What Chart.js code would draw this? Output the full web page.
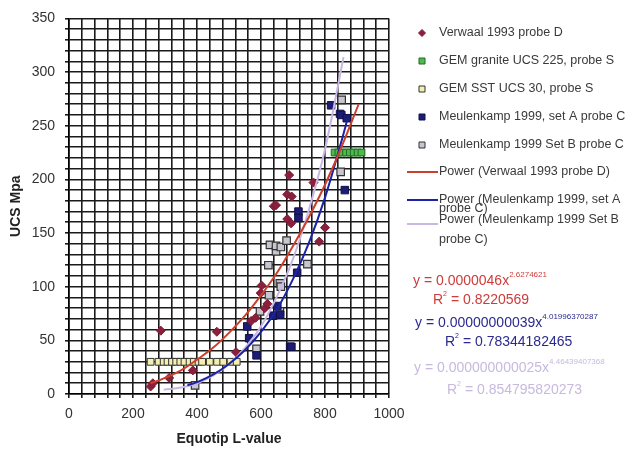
<!DOCTYPE html>
<html><head><meta charset="utf-8">
<script src="https://cdn.jsdelivr.net/npm/chart.js@4.4.1/dist/chart.umd.min.js"></script>
<style>html,body{margin:0;padding:0;background:#fff;}#wrap{width:626px;height:451px;}</style>
</head><body><div id="wrap"><canvas id="c" width="626" height="451"></canvas></div>
<script>
// ---- data ----
const verwaalX = [255,262,287,313,387,462,522,569,583,599,602,612,620,640,647,682,694,682,696,688,764,782,800];
const verwaalY = [7,10,59,15,22,58,39,68,71,94,101,80,84,175,176,163,159,186,184,204,197,142,155];
const graniteX = [830,842,854,866,878,890,902,914];
const graniteY = [225,225,225,225,225,225,225,225];
const sstX = [255,280,296,308,322,335,348,361,377,390,405,416,440,463,482,505,524];
const sstY = [30,30,30,30,30,30,30,30,30,30,30,30,30,30,30,30,30];
const setAX = [557,563,586,638,651,660,691,695,713,717,717,819,847,851,868,862];
const setAY = [63,52,36,73,82,74,44,44,113,170,164,269,261,260,257,190];
const setBX = [394,586,597,625,623,628,647,647,662,680,659,662,659,745,849,852];
const setBY = [8,42,77,92,120,139,133,138,137,143,103,100,77,121,207,274];
const powVerwaalX = [255,300,350,400,450,500,550,600,650,700,750,800,850,905];
const powVerwaalY = [10,15,22,32,43,57,73,92,113,138,165,195,229,270];
const powSetAX = [370,400,450,500,550,600,650,700,750,800,850,870];
const powSetAY = [8,11,18,28,41,58,79,107,141,183,234,256];
const powSetBX = [296,350,400,450,500,550,600,650,700,750,800,858];
const powSetBY = [4,6,10,17,28,43,63,91,126,172,228,314];
const seriesNames = ['Verwaal 1993 probe D','GEM granite UCS 225, probe S','GEM SST UCS 30, probe S',
  'Meulenkamp 1999, set A probe C','Meulenkamp 1999 Set B probe C','Power (Verwaal 1993 probe D)',
  'Power (Meulenkamp 1999, set A','Power (Meulenkamp 1999 Set B'];
const xLabels = [0,200,400,600,800,1000];
const yLabels = [0,50,100,150,200,250,300,350];
const equations = [
  {main:'y = 0.0000046x', sup:'2.6274621', r2:'0.8220569', color:'#cf3b38'},
  {main:'y = 0.00000000039x', sup:'4.01996370287', r2:'0.78344182465', color:'#2b2a8e'},
  {main:'y = 0.000000000025x', sup:'4.46439407368', r2:'0.854795820273', color:'#c6bade'}
];

const zip = (xs, ys) => xs.map((x, i) => ({x, y: ys[i]}));
const FONT = '"Liberation Sans", Arial, sans-serif';

const pts = [
  {label: seriesNames[0], data: zip(verwaalX, verwaalY), pointStyle:'rectRot', pointRadius:4.5, backgroundColor:'#8c1f3c', borderColor:'#7a1a33', borderWidth:1, showLine:false, order:2},
  {label: seriesNames[1], data: zip(graniteX, graniteY), pointStyle:'rect', pointRadius:4.8, backgroundColor:'#4dba4d', borderColor:'#1f6b1f', borderWidth:1, showLine:false, order:2},
  {label: seriesNames[2], data: zip(sstX, sstY), pointStyle:'rect', pointRadius:4.8, backgroundColor:'#f2efb0', borderColor:'#333', borderWidth:1, showLine:false, order:2},
  {label: seriesNames[3], data: zip(setAX, setAY), pointStyle:'rect', pointRadius:5.3, backgroundColor:'#1c1c74', borderColor:'#10104a', borderWidth:1, showLine:false, order:2},
  {label: seriesNames[4], data: zip(setBX, setBY), pointStyle:'rect', pointRadius:5.3, backgroundColor:'#c6c6ce', borderColor:'#333', borderWidth:1.2, showLine:false, order:2},
  {label: seriesNames[5], data: zip(powVerwaalX, powVerwaalY), showLine:true, pointRadius:0, borderColor:'#cc3f2c', borderWidth:2, tension:0.4, order:1},
  {label: seriesNames[6], data: zip(powSetAX, powSetAY), showLine:true, pointRadius:0, borderColor:'#1b22a8', borderWidth:2, tension:0.4, order:1},
  {label: seriesNames[7], data: zip(powSetBX, powSetBY), showLine:true, pointRadius:0, borderColor:'#c9b7e4', borderWidth:2, tension:0.4, order:1}
];

const overlay = {
  id:'overlay',
  afterDraw(chart){
    const ctx = chart.ctx;
    ctx.save();
    const ds = chart.data.datasets;
    const rows = [33,61,89,117,145,172,200,224];
    const mx = 422, tx = 439;
    ctx.textBaseline = 'middle';
    ctx.textAlign = 'left';
    for (let i = 0; i < 5; i++) {
      const d = ds[i], y = rows[i];
      ctx.fillStyle = d.backgroundColor; ctx.strokeStyle = d.borderColor; ctx.lineWidth = 1;
      ctx.beginPath();
      if (d.pointStyle === 'rectRot') { ctx.moveTo(mx, y-3.5); ctx.lineTo(mx+3.5, y); ctx.lineTo(mx, y+3.5); ctx.lineTo(mx-3.5, y); ctx.closePath(); }
      else { ctx.rect(mx-3, y-3, 6, 6); }
      ctx.fill(); ctx.stroke();
    }
    for (let i = 5; i < 8; i++) {
      const d = ds[i], y = rows[i];
      ctx.strokeStyle = d.borderColor; ctx.lineWidth = 2;
      ctx.beginPath(); ctx.moveTo(407, y); ctx.lineTo(438, y); ctx.stroke();
    }
    ctx.font = '12.5px ' + FONT;
    ctx.fillStyle = '#3a3a3a';
    const textRows = [[0,33],[1,61],[2,89],[3,117],[4,145],[5,172],[6,200]];
    textRows.forEach(([i,y]) => ctx.fillText(seriesNames[i], tx, y));
    ctx.fillText('probe C)', tx, 209);
    ctx.fillText(seriesNames[7], tx, 220);
    ctx.fillText('probe C)', tx, 240);
    const eqPos = [[413,281,433,300],[415,323,445,342],[414,368,447,390]];
    equations.forEach((e, i) => {
      const [x1,y1,x2,y2] = eqPos[i];
      ctx.fillStyle = e.color;
      ctx.font = '14px ' + FONT;
      ctx.fillText(e.main, x1, y1);
      const w = ctx.measureText(e.main).width;
      ctx.font = '8px ' + FONT;
      ctx.fillText(e.sup, x1 + w, y1 - 6);
      ctx.font = '14px ' + FONT;
      ctx.fillText('R', x2, y2);
      const wr = ctx.measureText('R').width;
      ctx.font = '7px ' + FONT;
      ctx.fillText('2', x2 + wr, y2 - 6);
      const w2 = ctx.measureText('2').width;
      ctx.font = '14px ' + FONT;
      ctx.fillText(' = ' + e.r2, x2 + wr + w2, y2);
    });
    ctx.restore();
  }
};

new Chart(document.getElementById('c'), {
  type: 'scatter',
  data: { datasets: pts },
  options: {
    responsive: false, animation: false, devicePixelRatio: 1,
    layout: { padding: { left: 0, right: 237, top: 16, bottom: 0 } },
    plugins: { legend: { display: false }, tooltip: { enabled: false } },
    scales: {
      x: {
        type: 'linear', min: 0, max: 1000,
        afterFit(s){ s.height = 57; },
        grid: { color: '#1a1a1a', lineWidth: 1.6, tickLength: 4, tickColor: '#1a1a1a', drawTicks: true },
        border: { color: '#000', width: 1.6 },
        ticks: { stepSize: 40, autoSkip: false, maxRotation: 0, maxTicksLimit: 100, padding: 8,
          color: '#333', font: { family: FONT, size: 14 },
          callback: v => xLabels.includes(v) ? String(v) : '' },
        title: { display: true, text: 'Equotip L-value', color: '#222', font: { family: FONT, size: 14, weight: 'bold' }, padding: { top: 0, bottom: 3 } }
      },
      y: {
        type: 'linear', min: 0, max: 350,
        afterFit(s){ s.width = 69; },
        grid: { color: '#1a1a1a', lineWidth: 1.6, tickLength: 4, tickColor: '#1a1a1a', drawTicks: true },
        border: { color: '#000', width: 1.6 },
        ticks: { stepSize: 10, autoSkip: false, maxTicksLimit: 100, padding: 10,
          color: '#333', font: { family: FONT, size: 14 },
          callback: v => yLabels.includes(v) ? String(v) : '' },
        title: { display: true, text: 'UCS Mpa', color: '#222', font: { family: FONT, size: 14, weight: 'bold' }, padding: { top: 8, bottom: 0 } }
      }
    }
  },
  plugins: [overlay]
});
</script>
</body></html>
